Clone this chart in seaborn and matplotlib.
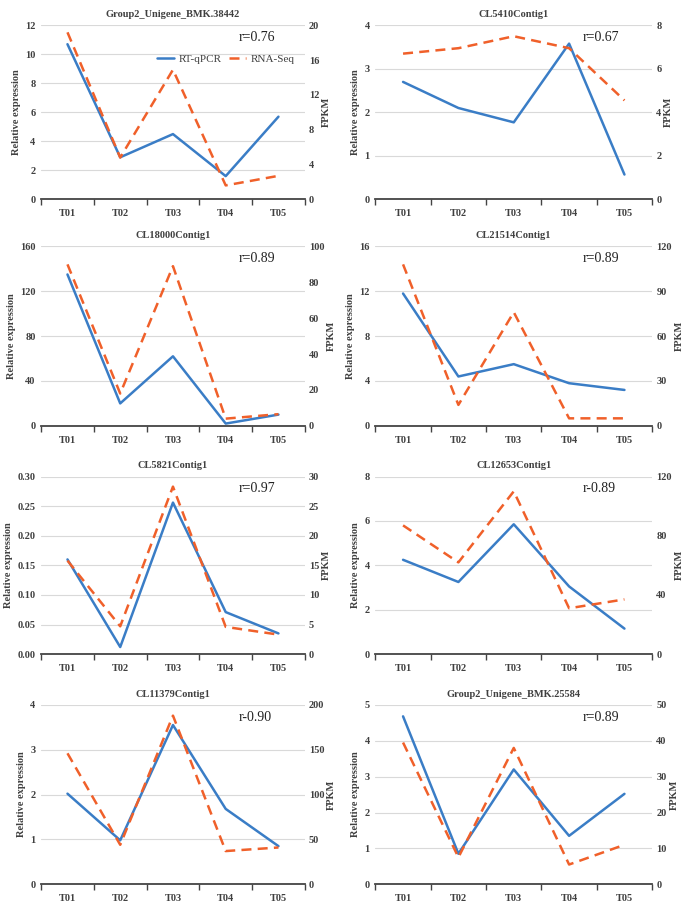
import numpy as np
import pandas as pd
import seaborn as sns
import matplotlib.pyplot as plt

# values
stages = ["T01", "T02", "T03", "T04", "T05"]

genes = ["Group2_Unigene_BMK.38442", "CL5410Contig1", "CL18000Contig1", "CL21514Contig1",
         "CL5821Contig1", "CL12653Contig1", "CL11379Contig1", "Group2_Unigene_BMK.25584"]
r_labels = ["r=0.76", "r=0.67", "r=0.89", "r=0.89", "r=0.97", "r-0.89", "r-0.90", "r=0.89"]

qpcr_38442 = [10.7, 2.9, 4.5, 1.6, 5.7]
fpkm_38442 = [19.2, 4.8, 14.9, 1.6, 2.7]
qpcr_5410 = [2.7, 2.1, 1.77, 3.58, 0.57]
fpkm_5410 = [6.7, 6.95, 7.5, 6.95, 4.55]
qpcr_18000 = [135, 20, 62, 2, 10]
fpkm_18000 = [90, 18, 89, 4, 6.5]
qpcr_21514 = [11.8, 4.4, 5.5, 3.8, 3.2]
fpkm_21514 = [108, 14, 76, 5, 5]
qpcr_5821 = [0.16, 0.012, 0.256, 0.071, 0.035]
fpkm_5821 = [15.8, 4.7, 28.3, 4.6, 3.3]
qpcr_12653 = [4.25, 3.25, 5.85, 3.05, 1.15]
fpkm_12653 = [87, 62, 110, 31, 37]
qpcr_11379 = [2.02, 0.98, 3.55, 1.68, 0.85]
fpkm_11379 = [146, 44, 188, 37, 41]
qpcr_25584 = [4.68, 0.85, 3.2, 1.35, 2.52]
fpkm_25584 = [39.5, 7.5, 38, 5.5, 11]

qpcr_all = [qpcr_38442, qpcr_5410, qpcr_18000, qpcr_21514, qpcr_5821, qpcr_12653, qpcr_11379, qpcr_25584]
fpkm_all = [fpkm_38442, fpkm_5410, fpkm_18000, fpkm_21514, fpkm_5821, fpkm_12653, fpkm_11379, fpkm_25584]

# (max, step) for left and right axes
left_ticks = [(12, 2), (4, 1), (160, 40), (16, 4), (0.30, 0.05), (8, 2), (4, 1), (5, 1)]
right_ticks = [(20, 4), (8, 2), (100, 20), (120, 30), (30, 5), (120, 40), (200, 50), (50, 10)]
left_fmt = ["{:.0f}"] * 4 + ["{:.2f}"] + ["{:.0f}"] * 3

BLUE = "#3a7dc6"
ORANGE = "#f0602a"
TXT = "#404040"

sns.set_theme(style="white")
plt.rcParams["font.family"] = ["Liberation Serif", "DejaVu Serif"]

fig = plt.figure(figsize=(6.85, 9.06), dpi=100)

col_x = [(0.060, 0.385), (0.548, 0.404)]
row_y = [(0.780, 0.192), (0.530, 0.198), (0.278, 0.196), (0.024, 0.198)]

for i, gene in enumerate(genes):
    row, col = divmod(i, 2)
    x0, w = col_x[col]
    y0, h = row_y[row]
    ax = fig.add_axes([x0, y0, w, h])
    ax2 = ax.twinx()

    df = pd.DataFrame({"stage": stages, "qpcr": qpcr_all[i], "fpkm": fpkm_all[i]})
    sns.lineplot(data=df, x="stage", y="qpcr", ax=ax, color=BLUE, linewidth=1.8,
                 label="RT-qPCR", legend=False, sort=False)
    sns.lineplot(data=df, x="stage", y="fpkm", ax=ax2, color=ORANGE, linewidth=1.8,
                 label="RNA-Seq", legend=False, sort=False)
    ax2.lines[0].set_dashes((4, 2.5))

    lmax, lstep = left_ticks[i]
    rmax, rstep = right_ticks[i]
    lt = np.arange(0, lmax + lstep / 2, lstep)
    rt = np.arange(0, rmax + rstep / 2, rstep)
    ax.set_ylim(0, lmax)
    ax2.set_ylim(0, rmax)
    ax.set_yticks(lt)
    ax.set_yticklabels([left_fmt[i].format(v) for v in lt])
    ax2.set_yticks(rt)
    ax2.set_yticklabels(["{:.0f}".format(v) for v in rt])

    ax.set_xlim(-0.5, 4.5)
    ax.set_xticks(range(5))
    ax.set_xticklabels(stages)
    ax.set_xticks(np.arange(-0.5, 5, 1), minor=True)
    ax.tick_params(axis="x", which="major", length=0, pad=7)
    ax.tick_params(axis="x", which="minor", length=4, width=1, color="#444444", direction="out", bottom=True)
    ax.tick_params(axis="y", length=0, pad=4)
    ax2.tick_params(axis="y", length=0, pad=3)

    ax.grid(axis="y", color="#d9d9d9", linewidth=0.8)
    ax.set_axisbelow(True)
    for a in (ax, ax2):
        for s in ("top", "left", "right", "bottom"):
            a.spines[s].set_visible(False)
    ax.spines["bottom"].set_visible(True)
    ax.spines["bottom"].set_color("#444444")
    ax.spines["bottom"].set_linewidth(1.3)

    for lab in ax.get_xticklabels() + ax.get_yticklabels() + ax2.get_yticklabels():
        lab.set_fontsize(7.5)
        lab.set_fontweight("bold")
        lab.set_color(TXT)

    ax.set_xlabel("")
    ax.set_ylabel("Relative expression", fontsize=7.5, fontweight="bold", color=TXT, labelpad=3)
    ax2.set_ylabel("FPKM", fontsize=7.5, fontweight="bold", color=TXT, labelpad=2)
    ax.set_title(gene, fontsize=7.5, fontweight="bold", color=TXT, pad=6)
    ax.text(0.75, 0.93, r_labels[i], transform=ax.transAxes, fontsize=10, va="center", ha="left",
            color="#222222")

    if i == 0:
        handles = [ax.lines[0], ax2.lines[0]]
        ax2.legend(handles, ["RT-qPCR", "RNA-Seq"], loc="upper right", bbox_to_anchor=(1.0, 0.89),
                   ncol=2, frameon=False, fontsize=8, handlelength=1.6, columnspacing=0.6,
                   handletextpad=0.4, labelcolor=TXT)

fig.savefig("out.png", dpi=100)
